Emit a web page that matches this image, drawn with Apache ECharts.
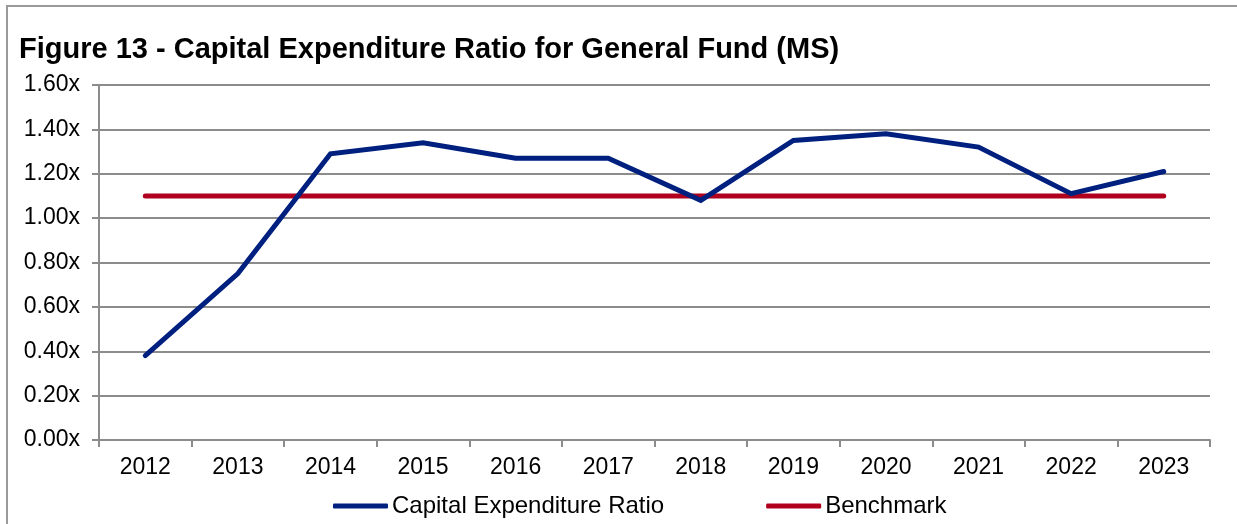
<!DOCTYPE html>
<html>
<head>
<meta charset="utf-8">
<title>Figure 13 - Capital Expenditure Ratio for General Fund (MS)</title>
<script src="https://cdn.jsdelivr.net/npm/echarts@6/dist/echarts.min.js"></script>
<style>
  html, body { margin: 0; padding: 0; background: #ffffff; }
  #chart { width: 1237px; height: 524px; }
</style>
</head>
<body>
<div id="chart"></div>
<script>
// Fiscal years on the category axis
const years = ['2012', '2013', '2014', '2015', '2016', '2017', '2018', '2019', '2020', '2021', '2022', '2023'];
// Capital expenditure ratio (times)
const capexRatio = [0.38, 0.75, 1.29, 1.34, 1.27, 1.27, 1.08, 1.35, 1.38, 1.32, 1.11, 1.21];
// Benchmark ratio, flat across all years
const benchmark = [1.10, 1.10, 1.10, 1.10, 1.10, 1.10, 1.10, 1.10, 1.10, 1.10, 1.10, 1.10];
// Value axis range
const yTicks = { min: 0, max: 1.6, interval: 0.2 };

const FONT = '"Liberation Sans", Arial, "DejaVu Sans", sans-serif';
const GRID_GRAY = '#8c8c8c';

const chart = echarts.init(document.getElementById('chart'), null, { renderer: 'canvas' });

chart.setOption({
  animation: false,
  backgroundColor: '#ffffff',
  textStyle: { fontFamily: FONT },
  graphic: [{
    type: 'rect',
    silent: true,
    shape: { x: 7, y: 6, width: 1300, height: 600 },
    style: { fill: 'none', stroke: '#9a9a9a', lineWidth: 2 }
  }],
  title: {
    text: 'Figure 13 - Capital Expenditure Ratio for General Fund (MS)',
    left: 19,
    top: 35,
    padding: 0,
    textStyle: { fontFamily: FONT, fontSize: 29, fontWeight: 'bold', color: '#000000' }
  },
  legend: {
    left: 333,
    top: 494,
    padding: 0,
    itemGap: 102,
    itemWidth: 55,
    itemHeight: 5,
    icon: 'roundRect',
    textStyle: { fontFamily: FONT, fontSize: 24, color: '#000000', padding: [0, 0, 0, -1] },
    data: ['Capital Expenditure Ratio', 'Benchmark']
  },
  grid: { left: 99, right: 27, top: 85, bottom: 84, containLabel: false },
  xAxis: {
    type: 'category',
    data: years,
    boundaryGap: true,
    axisLine: { show: true, lineStyle: { color: GRID_GRAY, width: 2 } },
    axisTick: { show: true, length: 7, lineStyle: { color: GRID_GRAY, width: 2 } },
    axisLabel: { margin: 16, fontFamily: FONT, fontSize: 23, color: '#000000' },
    splitLine: { show: false }
  },
  yAxis: {
    type: 'value',
    min: yTicks.min,
    max: yTicks.max,
    interval: yTicks.interval,
    axisLine: { show: true, lineStyle: { color: GRID_GRAY, width: 2 } },
    axisTick: { show: true, length: 7, lineStyle: { color: GRID_GRAY, width: 2 } },
    axisLabel: {
      margin: 19,
      fontFamily: FONT,
      fontSize: 23,
      color: '#000000',
      formatter: v => v.toFixed(2) + 'x'
    },
    splitLine: { show: true, lineStyle: { color: GRID_GRAY, width: 2 } }
  },
  series: [
    {
      name: 'Capital Expenditure Ratio',
      type: 'line',
      data: capexRatio,
      showSymbol: false,
      symbol: 'none',
      color: '#00207f',
      lineStyle: { color: '#00207f', width: 5, cap: 'round', join: 'miter' },
      z: 3
    },
    {
      name: 'Benchmark',
      type: 'line',
      data: benchmark,
      showSymbol: false,
      symbol: 'none',
      color: '#b0001e',
      lineStyle: { color: '#b0001e', width: 5, cap: 'round' },
      z: 2
    }
  ]
});
</script>
</body>
</html>
